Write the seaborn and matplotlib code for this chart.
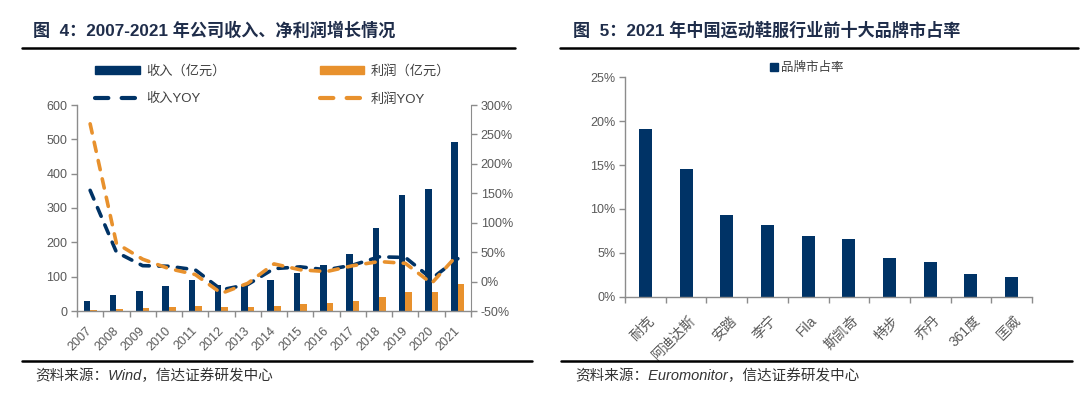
import numpy as np
import pandas as pd
import matplotlib
matplotlib.use('Agg')
import matplotlib.pyplot as plt
import matplotlib.transforms as mtransforms
from matplotlib.lines import Line2D
from matplotlib.patches import Patch
from matplotlib.ticker import FuncFormatter
import seaborn as sns

# ---- data: figure 4 (revenue / profit, 100m RMB, and YoY %) ----
years = ['2007', '2008', '2009', '2010', '2011', '2012', '2013', '2014',
         '2015', '2016', '2017', '2018', '2019', '2020', '2021']
revenue = [29.9, 46.3, 58.7, 74.1, 89.0, 76.2, 72.9, 89.2,
           111.3, 133.5, 166.9, 241.0, 339.3, 355.1, 493.3]
profit = [4, 7, 10, 13, 14, 12, 11, 15, 19, 23, 30, 41, 55, 54, 80]
revenue_yoy = [155, 50, 27, 26, 20, -14, -5, 22, 25, 20, 28, 42, 41, 5, 39]
profit_yoy = [268, 65, 38, 22, 12, -20, -3, 30, 20, 17, 27, 34, 31, -3, 46]

# ---- data: figure 5 (brand market share 2021, %) ----
brands = ['耐克', '阿迪达斯', '安踏', '李宁', 'Fila', '斯凯奇', '特步', '乔丹', '361度', '匡威']
brand_share = [19.1, 14.6, 9.3, 8.2, 6.9, 6.6, 4.4, 4.0, 2.6, 2.2]

NAVY = '#003366'
ORANGE = '#E8912D'
TICK = '#595959'
AXIS = '#8c8c8c'
TITLE = '#1F2D4A'

sns.set_style('white')
plt.rcParams['font.family'] = ['Liberation Sans', 'Noto Sans CJK SC', 'DejaVu Sans']

W, H = 1080, 398
fig = plt.figure(figsize=(W / 100, H / 100), dpi=100)


def fx(px):
    return px / W


def fy(py):
    return 1 - py / H


def style_axis(ax, n, xsize, xpad, xshift):
    ax.set_xlim(-0.5, n - 0.5)
    ax.set_xticks(np.arange(-0.5, n, 1), minor=True)
    ax.tick_params(axis='x', which='major', length=0, pad=xpad, labelsize=xsize, labelcolor=TICK)
    ax.tick_params(axis='x', which='minor', bottom=True, length=4, color=AXIS, width=1)
    ax.tick_params(axis='y', left=True, length=4, color=AXIS, width=1, labelsize=9,
                   labelcolor=TICK, pad=3)
    for s in ['top', 'right']:
        ax.spines[s].set_visible(False)
    for s in ['left', 'bottom']:
        ax.spines[s].set_color(AXIS)
        ax.spines[s].set_linewidth(1)
    ax.set_xlabel('')
    ax.set_ylabel('')
    shift = mtransforms.ScaledTranslation(xshift / 100, 0, fig.dpi_scale_trans)
    for lab in ax.get_xticklabels():
        lab.set_rotation(45)
        lab.set_ha('right')
        lab.set_rotation_mode('anchor')
        lab.set_transform(lab.get_transform() + shift)


# ================= left chart =================
ax1 = fig.add_axes([fx(77), fy(311), fx(394), 206 / H])
bars = pd.DataFrame({
    'year': years * 2,
    'value': revenue + profit,
    'kind': ['收入（亿元）'] * len(years) + ['利润（亿元）'] * len(years),
})
sns.barplot(data=bars, x='year', y='value', hue='kind', palette=[NAVY, ORANGE],
            width=0.5, saturation=1, linewidth=0, legend=False, ax=ax1)
ax1.set_ylim(0, 600)
ax1.set_yticks(np.arange(0, 601, 100))
style_axis(ax1, len(years), 9, 10, -4)

ax2 = ax1.twinx()
pos = np.arange(len(years))
lines = pd.DataFrame({
    'pos': np.concatenate([pos, pos]),
    'yoy': revenue_yoy + profit_yoy,
    'kind': ['收入YOY'] * len(years) + ['利润YOY'] * len(years),
})
sns.lineplot(data=lines, x='pos', y='yoy', hue='kind', style='kind',
             palette=[NAVY, ORANGE], dashes=[(2.6, 2.6), (2.6, 2.6)],
             linewidth=2.6, legend=False, ax=ax2, dash_capstyle='round')
ax2.set_xlim(-0.5, len(years) - 0.5)
ax2.set_ylim(-50, 300)
ax2.set_yticks(np.arange(-50, 301, 50))
ax2.yaxis.set_major_formatter(FuncFormatter(lambda v, p: f'{v:.0f}%'))
ax2.tick_params(axis='y', right=True, length=4, color=AXIS, width=1, labelsize=9,
                labelcolor=TICK, pad=3)
for s in ['top', 'left', 'bottom']:
    ax2.spines[s].set_visible(False)
ax2.spines['right'].set_color(AXIS)
ax2.set_xlabel('')
ax2.set_ylabel('')

dash_h = dict(lw=3, linestyle=(0, (3.2, 3.2)), dash_capstyle='round')
handles = [
    Patch(color=NAVY, label='收入（亿元）'),
    Line2D([], [], color=NAVY, label='收入YOY', **dash_h),
    Patch(color=ORANGE, label='利润（亿元）'),
    Line2D([], [], color=ORANGE, label='利润YOY', **dash_h),
]
fig.legend(handles=handles, ncol=2, loc='upper left', bbox_to_anchor=(fx(95), fy(65)),
           frameon=False, fontsize=9.5, handlelength=3.4, handleheight=0.55,
           handletextpad=0.5, columnspacing=7.1, labelspacing=1.15,
           borderpad=0, borderaxespad=0, labelcolor='#404040')

# ================= right chart =================
ax3 = fig.add_axes([fx(625), fy(296.7), fx(407), 219.4 / H])
sns.barplot(x=brands, y=brand_share, color=NAVY, width=0.32, saturation=1,
            linewidth=0, ax=ax3)
ax3.set_ylim(0, 25)
ax3.set_yticks(np.arange(0, 26, 5))
ax3.yaxis.set_major_formatter(FuncFormatter(lambda v, p: f'{v:.0f}%'))
style_axis(ax3, len(brands), 10, 12, 2)
fig.legend(handles=[Patch(color=NAVY, label='品牌市占率')], loc='upper left',
           bbox_to_anchor=(fx(770), fy(62)), frameon=False, fontsize=9,
           handlelength=0.65, handleheight=0.65, handletextpad=0.2,
           borderpad=0, borderaxespad=0, labelcolor='#404040')

# ================= titles, rules, sources =================
fig.text(fx(33), fy(30), '图  4：2007-2021 年公司收入、净利润增长情况', fontsize=12.3,
         weight='bold', color=TITLE, va='center')
fig.text(fx(573), fy(30), '图  5：2021 年中国运动鞋服行业前十大品牌市占率', fontsize=12.3,
         weight='bold', color=TITLE, va='center')
for x0, x1 in [(22, 515), (560, 1078)]:
    fig.add_artist(Line2D([fx(x0), fx(x1)], [fy(48), fy(48)], color='black', lw=1.8))
for x0, x1 in [(22, 532), (561, 1072)]:
    fig.add_artist(Line2D([fx(x0), fx(x1)], [fy(361), fy(361)], color='black', lw=1.8))
fig.text(fx(35), fy(376), '资料来源：Wind，信达证券研发中心', fontsize=10.5,
         style='italic', color='#333333', va='center')
fig.text(fx(575), fy(376), '资料来源：Euromonitor，信达证券研发中心', fontsize=10.5,
         style='italic', color='#333333', va='center')

fig.savefig('out.png', dpi=100)
